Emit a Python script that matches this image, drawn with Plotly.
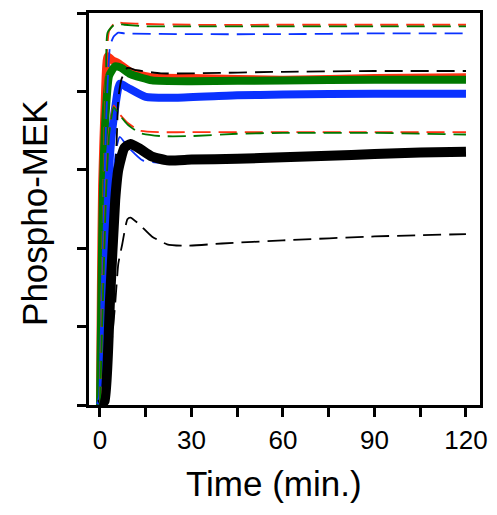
import plotly.graph_objects as go

# time points (min) and phospho-MEK levels, one array pair per curve
t_black = [0, 1.5, 3.3, 5, 6, 8, 10, 13, 17, 22, 30, 45, 60, 75, 90, 105, 120]
y_black = [0, 0.05, 1.35, 2.62, 3.0, 3.28, 3.33, 3.27, 3.17, 3.12, 3.13, 3.14, 3.16, 3.18, 3.2, 3.22, 3.23]

t_blue = [0, 0.7, 1.5, 2, 3.3, 5, 6.5, 9, 15, 25, 45, 60, 90, 120]
y_blue = [0, 0.1, 1.35, 2.0, 3.2, 3.8, 4.1, 4.05, 3.93, 3.92, 3.95, 3.96, 3.97, 3.97]

t_green = [0, 0.5, 1, 2, 3, 5, 7, 10, 17, 30, 60, 90, 120]
y_green = [0, 1.5, 2.8, 3.8, 4.2, 4.32, 4.3, 4.22, 4.14, 4.13, 4.14, 4.15, 4.15]

t_red = [0, 0.3, 0.7, 1.5, 2.5, 4, 6, 10, 17, 30, 60, 90, 120]
y_red = [0, 1.5, 2.8, 3.8, 4.45, 4.4, 4.36, 4.25, 4.18, 4.17, 4.15, 4.17, 4.18]

t_black_dash_hi = [0, 2, 4, 5.5, 6, 7, 9, 12, 20, 30, 60, 90, 120]
y_black_dash_hi = [0, 0.3, 2.0, 3.4, 3.9, 4.15, 4.3, 4.27, 4.23, 4.23, 4.25, 4.26, 4.26]

t_red_dash_hi = [0, 1, 2, 3, 5, 8, 15, 30, 60, 90, 120]
y_red_dash_hi = [0, 2.5, 4.3, 4.77, 4.88, 4.87, 4.86, 4.85, 4.85, 4.85, 4.85]

t_green_dash_hi = [0, 1, 2, 2.5, 5, 8, 15, 30, 60, 90, 120]
y_green_dash_hi = [0, 2.3, 4.2, 4.75, 4.86, 4.85, 4.83, 4.83, 4.83, 4.83, 4.83]

t_blue_dash_hi = [0, 1, 2, 3.3, 4.5, 6, 8, 30, 60, 90, 120]
y_blue_dash_hi = [0, 2.0, 3.6, 4.58, 4.7, 4.75, 4.74, 4.73, 4.73, 4.74, 4.74]

t_red_dash_lo = [0, 1, 2, 3, 4.5, 6, 9, 13, 20, 30, 60, 90, 120]
y_red_dash_lo = [0, 1.5, 2.8, 3.5, 3.82, 3.73, 3.6, 3.5, 3.48, 3.48, 3.48, 3.48, 3.48]

t_green_dash_lo = [0, 1, 2, 3, 4.5, 6, 9, 13, 20, 30, 45, 60, 90, 120]
y_green_dash_lo = [0, 1.4, 2.7, 3.45, 3.8, 3.72, 3.58, 3.47, 3.43, 3.43, 3.46, 3.47, 3.47, 3.45]

t_blue_dash_lo = [0, 2, 4, 5.5, 6.5, 9, 14, 20, 30, 60, 90, 120]
y_blue_dash_lo = [0, 1.2, 2.8, 3.3, 3.42, 3.3, 3.12, 3.09, 3.1, 3.13, 3.17, 3.2]

t_black_dash_lo = [0, 3, 5, 6, 7.3, 9, 10, 13, 17, 22, 28, 40, 60, 90, 120]
y_black_dash_lo = [0, 0.5, 1.3, 1.8, 2.05, 2.37, 2.39, 2.3, 2.15, 2.05, 2.03, 2.06, 2.1, 2.15, 2.18]

x_ticks = [0, 15, 30, 45, 60, 75, 90, 105, 120]
x_labels = ["0", "", "30", "", "60", "", "90", "", "120"]
y_ticks = [0, 1, 2, 3, 4, 5]

RED = "#ff3010"
GREEN = "#007800"
BLUE = "#0a32ff"
BLACK = "#000000"
DASH = "18px,8px"

fig = go.Figure()

def add(t, y, color, width, dash="solid"):
    fig.add_trace(go.Scatter(x=t, y=y, mode="lines",
                             line=dict(color=color, width=width, dash=dash,
                                       shape="spline", smoothing=0.5),
                             showlegend=False))

# thick solid curves
add(t_red, y_red, RED, 8)
add(t_green, y_green, GREEN, 8)
add(t_blue, y_blue, BLUE, 8)
# blue dashed low curve sits under the thick black one
add(t_blue_dash_lo, y_blue_dash_lo, BLUE, 1.8, DASH)
add(t_black, y_black, BLACK, 10)

# thin dashed curves
add(t_black_dash_hi, y_black_dash_hi, BLACK, 1.8, DASH)
add(t_red_dash_hi, y_red_dash_hi, RED, 1.8, DASH)
add(t_green_dash_hi, y_green_dash_hi, GREEN, 1.8, DASH)
add(t_blue_dash_hi, y_blue_dash_hi, BLUE, 1.8, DASH)
add(t_red_dash_lo, y_red_dash_lo, RED, 1.8, DASH)
add(t_green_dash_lo, y_green_dash_lo, GREEN, 1.8, DASH)
add(t_black_dash_lo, y_black_dash_lo, BLACK, 1.8, DASH)

font_family = "Arial, Liberation Sans, sans-serif"

# page body has an 8px margin, so the figure is 16px smaller than the window
fig.update_layout(
    width=481, height=499,
    margin=dict(l=81, r=9, t=5, b=102),
    paper_bgcolor="white", plot_bgcolor="white",
    font=dict(family=font_family, color="black"),
    xaxis=dict(range=[-3.6, 124.6], tickvals=x_ticks, ticktext=x_labels,
               ticks="outside", ticklen=9, tickwidth=3, tickcolor="black",
               showline=True, linewidth=3, linecolor="black", mirror=True,
               showgrid=False, zeroline=False, automargin=False,
               tickfont=dict(size=26), ticklabelstandoff=1),
    yaxis=dict(range=[0, 5], tickvals=y_ticks, showticklabels=False,
               ticks="outside", ticklen=9, tickwidth=3, tickcolor="black",
               showline=True, linewidth=3, linecolor="black", mirror=True,
               showgrid=False, zeroline=False, automargin=False),
    annotations=[
        dict(text="Time (min.)", xref="paper", yref="paper", x=0.473, y=-0.2,
             xanchor="center", yanchor="middle", showarrow=False,
             font=dict(size=35)),
        dict(text="Phospho-MEK", xref="paper", yref="paper", x=-0.138, y=0.49,
             xanchor="center", yanchor="middle", showarrow=False, textangle=-90,
             font=dict(size=35)),
    ],
)

fig.write_html("out.html")
